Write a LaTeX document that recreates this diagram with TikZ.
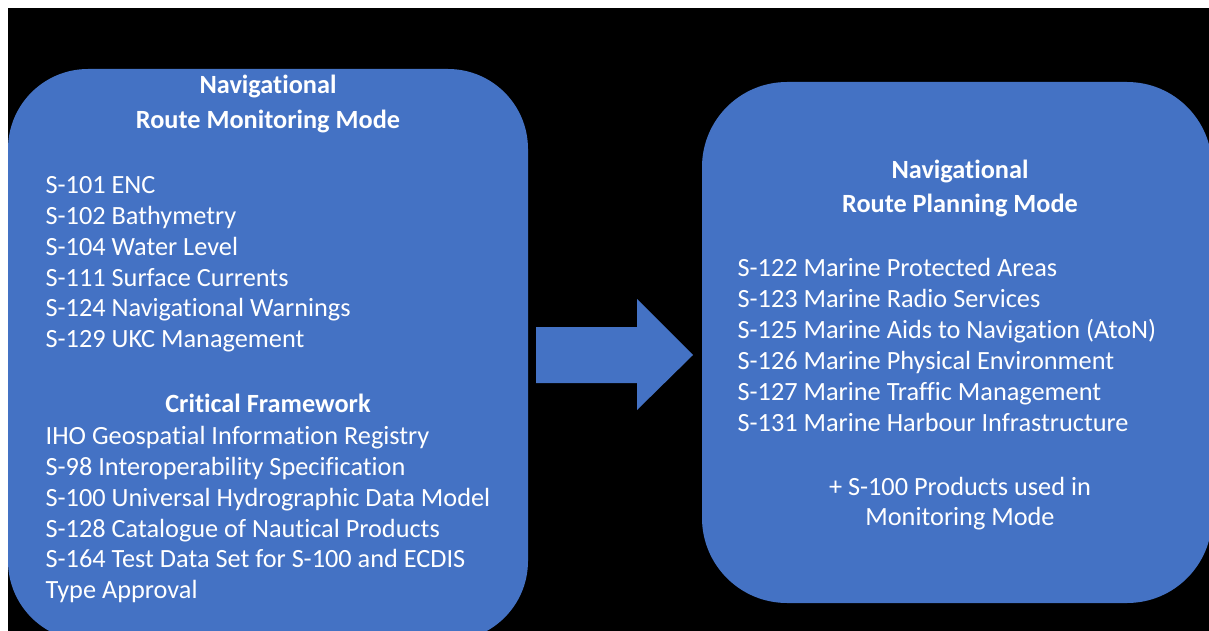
\documentclass[tikz,border=0pt]{standalone}
\usepackage{fontspec}
\setmainfont[Ligatures=NoCommon,RawFeature={-liga}]{Carlito}
\definecolor{boxblue}{HTML}{4472C4}
\begin{document}
\begin{tikzpicture}[x=1pt,y=-1pt,
  panel/.style={fill=boxblue,draw=none,rounded corners=80pt,inner sep=0pt},
  item/.style={text=white,font=\fontsize{26.3}{31}\selectfont,inner sep=0pt,anchor=base west},
  head/.style={text=white,font=\fontsize{26.3}{31}\selectfont\bfseries,inner sep=0pt,anchor=base},
  note/.style={text=white,font=\fontsize{26.3}{31}\selectfont,inner sep=0pt,anchor=base},
  bigarrow/.style={fill=boxblue,draw=none}]
\useasboundingbox (0,0) rectangle (1209,631);
\clip (0,0) rectangle (1209,631);
\fill[white] (0,0) rectangle (1209,631);
\fill[black] (8,8) rectangle (1209,631);
% panels
\node[panel,minimum width=520pt,minimum height=572pt] (mon) at (268,355) {};
\node[panel,rounded corners=85pt,minimum width=510pt,minimum height=521pt] (plan) at (957,342.5) {};
% block arrow between panels
\fill[bigarrow] (536,327) -- (637,327) -- (637,299) -- (693,355) -- (637,410) -- (637,383) -- (536,383) -- cycle;
% left panel texts
\node[head] (mt1) at (268,94) {Navigational};
\node[head] (mt2) at (268,128.4) {Route Monitoring Mode};
\foreach \t [count=\i from 0] in {S-101 ENC,S-102 Bathymetry,S-104 Water Level,S-111 Surface Currents,S-124 Navigational Warnings,S-129 UKC Management}
  \node[item] (m\i) at (45.5,193.3+30.9*\i) {\t};
\node[head] (cf) at (268,412.7) {Critical Framework};
\foreach \t [count=\i from 0] in {IHO Geospatial Information Registry,S-98 Interoperability Specification,S-100 Universal Hydrographic Data Model,S-128 Catalogue of Nautical Products,S-164 Test Data Set for S-100 and ECDIS,Type Approval}
  \node[item] (c\i) at (45.5,444.3+30.9*\i) {\t};
% right panel texts
\node[head] (pt1) at (960,178.3) {Navigational};
\node[head] (pt2) at (960,212.7) {Route Planning Mode};
\foreach \t [count=\i from 0] in {S-122 Marine Protected Areas,S-123 Marine Radio Services,S-125 Marine Aids to Navigation (AtoN),S-126 Marine Physical Environment,S-127 Marine Traffic Management,S-131 Marine Harbour Infrastructure}
  \node[item] (p\i) at (737.5,276.7+31*\i) {\t};
\node[note] (n1) at (960,495) {+ S-100 Products used in};
\node[note] (n2) at (960,525.5) {Monitoring Mode};
\end{tikzpicture}
\end{document}
